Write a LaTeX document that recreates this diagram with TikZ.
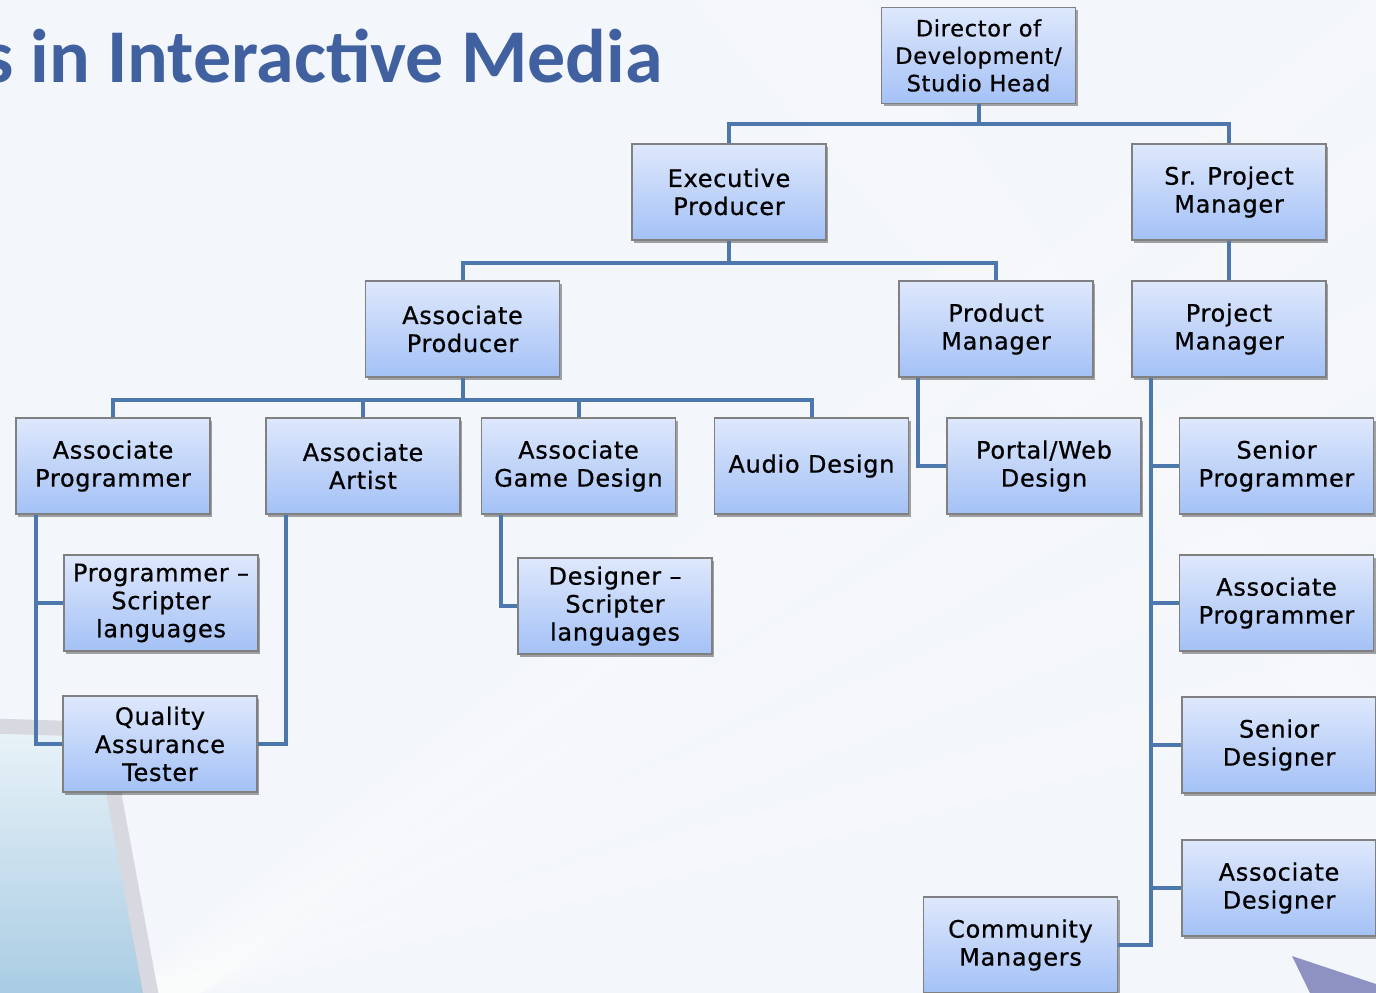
\documentclass[tikz,border=0pt]{standalone}
\usepackage{fontspec}
\usetikzlibrary{shadows}
\newfontfamily\boxfont[LetterSpace=3,FakeBold=0.7]{DejaVu Sans}
\newfontfamily\titlefont{Carlito}
\definecolor{bgc}{HTML}{F3F6FA}
\definecolor{titlec}{HTML}{4060A0}
\definecolor{linec}{HTML}{4D78AE}
\definecolor{boxtop}{HTML}{DEE8FC}
\definecolor{boxbot}{HTML}{A4C1F6}
\definecolor{boxedge}{HTML}{808080}
\definecolor{stripec}{HTML}{D8D8E0}
\definecolor{blueA}{HTML}{E8F2F8}
\definecolor{blueB}{HTML}{A9CCE3}
\definecolor{arrowc}{HTML}{8E92C2}
\tikzset{
  rolebox/.style={draw=boxedge, line width=1.2pt, top color=boxtop, bottom color=boxbot,
    minimum width=194pt, minimum height=96pt, inner sep=0pt, align=center,
    font=\boxfont\fontsize{24}{28}\selectfont, text=black,
    drop shadow={shadow xshift=2pt, shadow yshift=-2.5pt, opacity=0.35, fill=black}},
  topbox/.style={rolebox, font=\boxfont\fontsize{22.5}{27.5}\selectfont},
  conn/.style={draw=linec, line width=4pt, line join=miter},
}
\begin{document}
\begin{tikzpicture}[x=1pt,y=-1pt]
\useasboundingbox (0,0) rectangle (1376,993);
% background
\fill[bgc] (0,0) rectangle (1376,993);
\foreach \a/\b in {0/60, 140/210, 300/380, 470/540, 640/700}{
  \fill[white, opacity=0.22] (1376,\a) -- (1376,\b) -- (200,993) -- (120,993) -- cycle;
}
\fill[white, opacity=0.2] (700,0) -- (860,0) -- (1376,700) -- (1376,780) -- cycle;
% bottom-left blue area and stripe
\shade[top color=blueA, bottom color=blueB] (0,733) -- (95,736) .. controls (112,745) and (115,770) .. (117,800) -- (145,993) -- (0,993) -- cycle;
\draw[stripec, line width=15pt] (-10,726) -- (90,729) .. controls (108,738) and (112,770) .. (115,800) -- (152,1000);
% bottom-right arrow shape
\fill[arrowc] (1292,956) -- (1376,984) -- (1376,993) -- (1310,993) -- cycle;
% title
\node[anchor=base east, inner sep=0pt, text=titlec, font=\titlefont\bfseries\fontsize{76}{80}\selectfont] (title) at (663,82) {s in Interactive Media};
% nodes
\node[topbox] (dir) at (978.5,55.5) {Director of\\Development/\\Studio Head};
\node[rolebox] (ep) at (729,192) {Executive\\Producer};
\node[rolebox] (spm) at (1229,192) {Sr. Project\\Manager};
\node[rolebox] (ap) at (462.5,329) {Associate\\Producer};
\node[rolebox] (pm) at (996,329) {Product\\Manager};
\node[rolebox] (pjm) at (1229,329) {Project\\Manager};
\node[rolebox] (apg) at (113,466) {Associate\\Programmer};
\node[rolebox] (aa) at (363,466) {Associate\\Artist};
\node[rolebox] (agd) at (578.5,466) {Associate\\Game Design};
\node[rolebox] (aud) at (811.5,466) {Audio Design};
\node[rolebox] (pw) at (1044,466) {Portal/Web\\Design};
\node[rolebox] (sp) at (1276.5,466) {Senior\\Programmer};
\node[rolebox] (ps) at (161,603) {Programmer –\\Scripter\\languages};
\node[rolebox] (ds) at (615,606) {Designer –\\Scripter\\languages};
\node[rolebox] (apr) at (1276.5,603) {Associate\\Programmer};
\node[rolebox] (qa) at (160,744) {Quality\\Assurance\\Tester};
\node[rolebox] (sd) at (1279,745) {Senior\\Designer};
\node[rolebox] (ad) at (1279,888) {Associate\\Designer};
\node[rolebox] (cm) at (1020.5,945) {Community\\Managers};
% connectors
\draw[conn] (dir.south) -- ++(0,20) coordinate (j1);
\draw[conn] (ep.north) |- (j1) -| (spm.north);
\draw[conn] (ep.south) -- ++(0,22) coordinate (j2);
\draw[conn] (ap.north) |- (j2) -| (pm.north);
\draw[conn] (spm.south) -- (pjm.north);
\draw[conn] (ap.south) -- ++(0,22) coordinate (j3);
\draw[conn] (apg.north) |- (j3) -| (aud.north);
\draw[conn] (aa.north) -- (aa.north |- j3);
\draw[conn] (agd.north) -- (agd.north |- j3);
\draw[conn] ([xshift=20pt]pm.south west) |- (pw.west);
\draw[conn] ([xshift=20pt]pjm.south west) coordinate (t1) |- (cm.east);
\draw[conn] (sp.west) -- (sp.west -| t1);
\draw[conn] (apr.west) -- (apr.west -| t1);
\draw[conn] (sd.west) -- (sd.west -| t1);
\draw[conn] (ad.west) -- (ad.west -| t1);
\draw[conn] ([xshift=21pt]apg.south west) coordinate (t2) |- (qa.west);
\draw[conn] (ps.west) -- (ps.west -| t2);
\draw[conn] ([xshift=21pt]aa.south west) |- (qa.east);
\draw[conn] ([xshift=20pt]agd.south west) |- (ds.west);
\end{tikzpicture}
\end{document}
